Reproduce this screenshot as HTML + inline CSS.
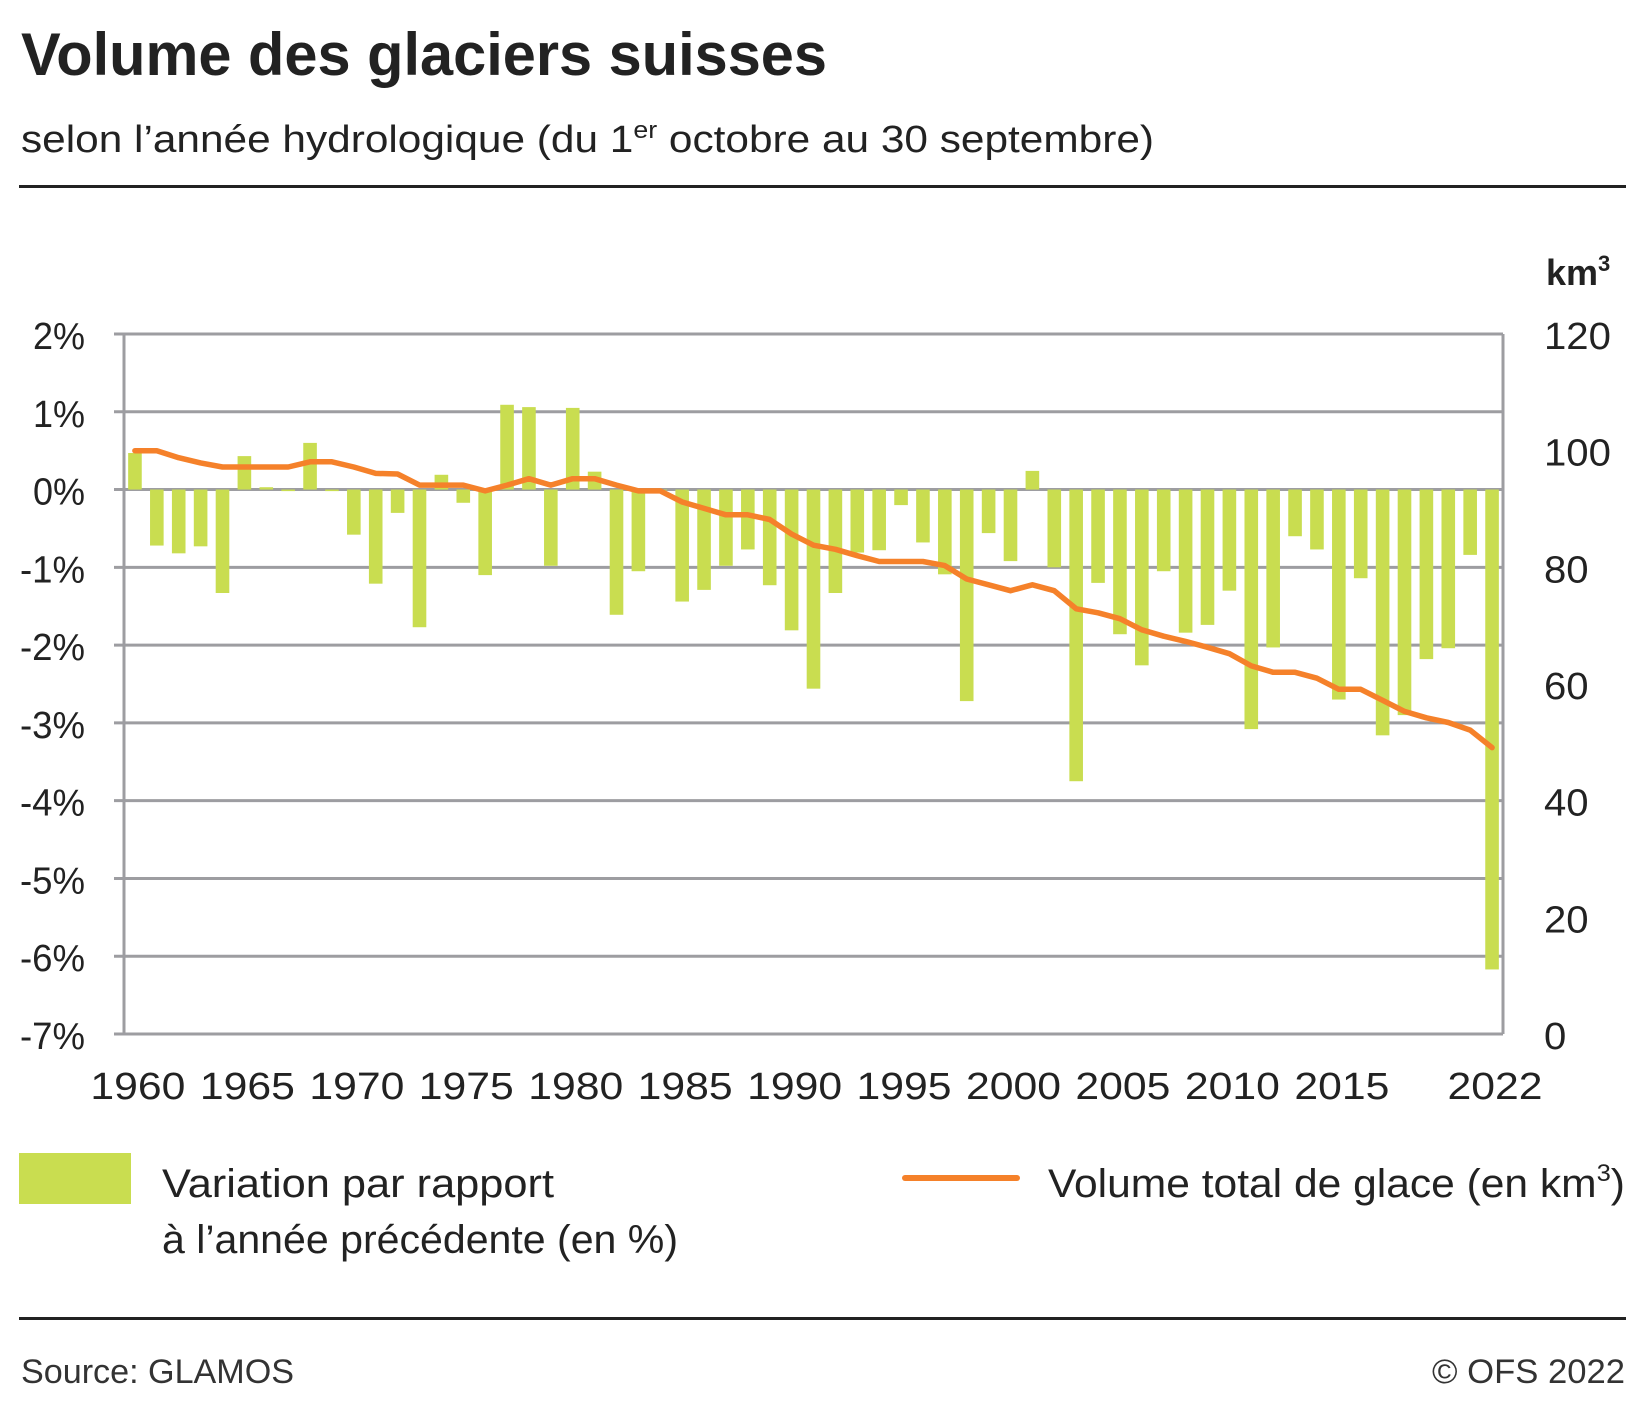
<!DOCTYPE html>
<html><head><meta charset="utf-8"><style>
html,body{margin:0;padding:0;background:#fff;}
svg{display:block;font-family:"Liberation Sans",sans-serif;}
</style></head><body>
<svg id="chart" width="1635" height="1408" viewBox="0 0 1635 1408" xmlns="http://www.w3.org/2000/svg">
<text x="21" y="75" font-size="60" font-weight="bold" fill="#222" textLength="806" lengthAdjust="spacingAndGlyphs">Volume des glaciers suisses</text>
<text x="21" y="152" font-size="38" fill="#222" textLength="1133" lengthAdjust="spacingAndGlyphs">selon l’année hydrologique (du 1<tspan dy="-14" font-size="24">er</tspan><tspan dy="14"> octobre au 30 septembre)</tspan></text>
<rect x="19" y="185" width="1607" height="3" fill="#222"/>
<text x="1546" y="285" font-size="36" font-weight="bold" fill="#222">km<tspan dy="-14" font-size="22">3</tspan></text>
<g id="grid"></g>
<g id="bars"></g>
<g id="frame"></g>
<path id="volLine" fill="none" stroke="#f5812a" stroke-width="5.5" stroke-linejoin="round" stroke-linecap="round"/>
<g id="labels"></g>
<rect x="19" y="1153" width="112" height="51" fill="#c9dd50"/>
<text x="162" y="1197" font-size="40" fill="#222" textLength="392" lengthAdjust="spacingAndGlyphs">Variation par rapport</text>
<text x="162" y="1253" font-size="40" fill="#222" textLength="516" lengthAdjust="spacingAndGlyphs">à l’année précédente (en %)</text>
<line x1="905" y1="1178" x2="1017" y2="1178" stroke="#f5812a" stroke-width="6" stroke-linecap="round"/>
<text x="1048" y="1197" font-size="40" fill="#222" textLength="577" lengthAdjust="spacingAndGlyphs">Volume total de glace (en km<tspan dy="-16" font-size="24">3</tspan><tspan dy="16">)</tspan></text>
<rect x="19" y="1317" width="1607" height="3" fill="#222"/>
<text x="21" y="1383" font-size="34" fill="#333" textLength="273" lengthAdjust="spacingAndGlyphs">Source: GLAMOS</text>
<text x="1625" y="1383" font-size="34" fill="#333" text-anchor="end" textLength="193" lengthAdjust="spacingAndGlyphs">© OFS 2022</text>
</svg>
<script>
const years = [];
for (let y = 1960; y <= 2022; y++) years.push(y);
const variation = [0.47,-0.72,-0.82,-0.73,-1.33,0.43,0.03,-0.02,0.60,-0.02,
-0.58,-1.21,-0.30,-1.77,0.19,-0.17,-1.10,1.09,1.06,-0.98,
1.05,0.23,-1.61,-1.05,0.0,-1.44,-1.29,-0.98,-0.77,-1.23,
-1.81,-2.56,-1.33,-0.81,-0.78,-0.20,-0.68,-1.09,-2.72,-0.56,
-0.92,0.24,-1.00,-3.75,-1.20,-1.86,-2.26,-1.05,-1.84,-1.74,
-1.30,-3.08,-2.03,-0.60,-0.77,-2.70,-1.14,-3.16,-2.90,-2.18,
-2.04,-0.84,-6.17];
const volume = [100,100,98.8,97.9,97.2,97.2,97.2,97.2,98.1,98.1,
97.2,96.1,96.0,94.1,94.1,94.1,93.1,94.1,95.2,94.1,
95.2,95.2,94.1,93.1,93.1,91.2,90.1,89.0,89.0,88.2,
85.7,83.8,83.1,82.0,81.0,81.0,81.0,80.3,78.0,77.0,
76.0,77.0,76.0,72.9,72.2,71.2,69.3,68.2,67.3,66.3,
65.2,63.1,62.0,62.0,61.0,59.1,59.1,57.2,55.3,54.2,
53.4,52.1,49.1];
const leftTicks = [2,1,0,-1,-2,-3,-4,-5,-6,-7];
const rightTicks = [0,20,40,60,80,100,120];
const xTickYears = [1960,1965,1970,1975,1980,1985,1990,1995,2000,2005,2010,2015,2022];

const NS = "http://www.w3.org/2000/svg";
const PL = 124, PR = 1503, PT = 334, PB = 1034;
const band = (PR - PL) / years.length;
const xC = y => PL + (years.indexOf(y) + 0.5) * band;
const yL = v => PT + (2 - v) / 9 * (PB - PT);
const yR = v => PB - v / 120 * (PB - PT);
function mk(tag, attrs, parent) {
  const e = document.createElementNS(NS, tag);
  for (const k in attrs) e.setAttribute(k, attrs[k]);
  parent.appendChild(e);
  return e;
}
const grid = document.getElementById('grid');
leftTicks.forEach(t => {
  const l = mk('line', {x1: PL - 10, x2: PR, y1: yL(t), y2: yL(t), stroke: '#9d9da1', 'stroke-width': 3}, grid);
  
  
});
const frame = document.getElementById('frame');
const fr = mk('path', {d: `M${PL},${PT} V${PB} M${PR},${PT} V${PB}`, stroke: '#9d9da1', 'stroke-width': 3, fill: 'none'}, frame);


const bars = document.getElementById('bars');
const bw = 13.6;
variation.forEach((v, i) => {
  const x = xC(years[i]) - bw / 2;
  const y0 = yL(0), y1 = yL(v);
  const r = mk('rect', {x: x, y: Math.min(y0, y1), width: bw, height: Math.max(Math.abs(y1 - y0), 0.8), fill: '#c9dd50'}, bars);
  
  
});
document.getElementById('volLine').setAttribute('d',
  volume.map((v, i) => (i ? 'L' : 'M') + xC(years[i]).toFixed(1) + ',' + yR(v).toFixed(1)).join(' '));
const labels = document.getElementById('labels');
leftTicks.forEach(t => {
  const s = t + '%';
  const tx = mk('text', {x: 85, y: yL(t) + 15, 'font-size': 38, fill: '#222', 'text-anchor': 'end', textLength: t < 0 ? 65 : 52, lengthAdjust: 'spacingAndGlyphs'}, labels);
  tx.textContent = s;
  
  
});
rightTicks.forEach(t => {
  const s = String(t);
  const tx = mk('text', {x: 1544, y: yR(t) + 15, 'font-size': 38, fill: '#222', textLength: s.length * 22.3, lengthAdjust: 'spacingAndGlyphs'}, labels);
  tx.textContent = s;
  
  
});
xTickYears.forEach(y => {
  const tx = mk('text', {x: xC(y) + 3, y: 1099, 'font-size': 38, fill: '#222', 'text-anchor': 'middle', textLength: 95, lengthAdjust: 'spacingAndGlyphs'}, labels);
  tx.textContent = String(y);
  
  
});
</script>
</body></html>
